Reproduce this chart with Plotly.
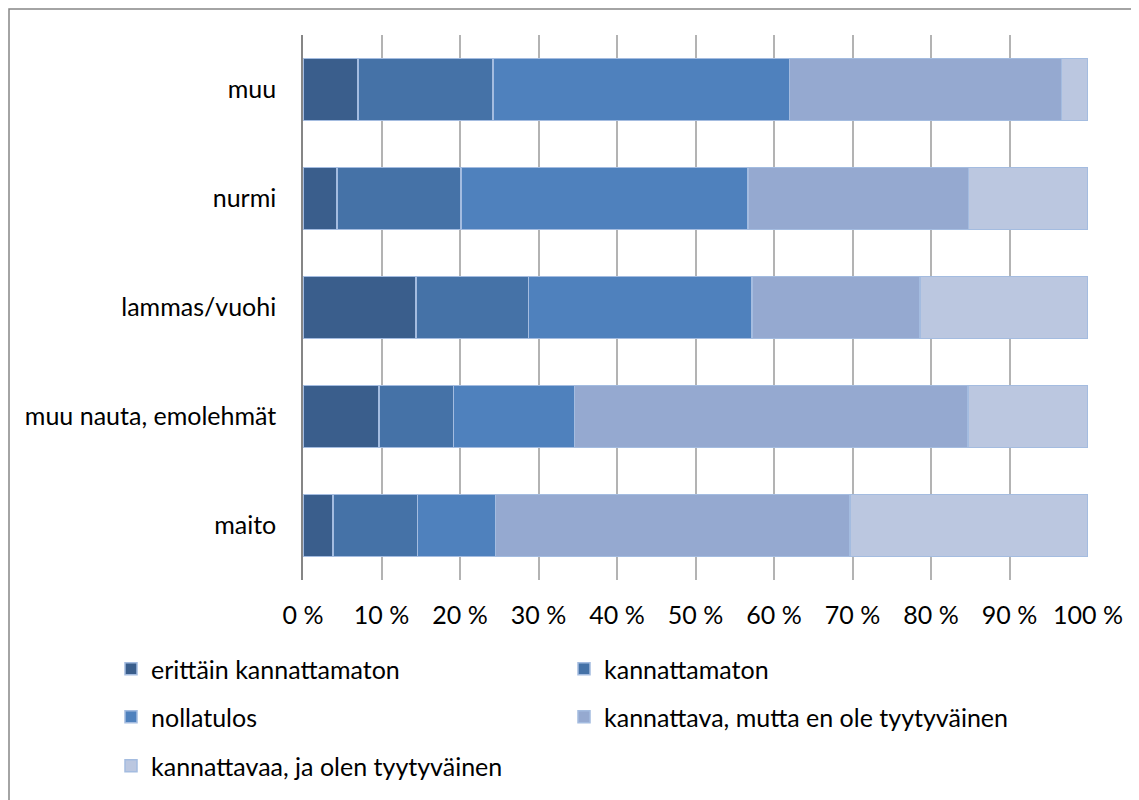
import plotly.graph_objects as go

# Data (percent of respondents)
categories = ['maito', 'muu nauta, emolehmät', 'lammas/vuohi', 'nurmi', 'muu']
series_names = ['erittäin kannattamaton', 'kannattamaton', 'nollatulos',
                'kannattava, mutta en ole tyytyväinen', 'kannattavaa, ja olen tyytyväinen']
erittain_kannattamaton = [3.8, 9.7, 14.4, 4.3, 7.0]
kannattamaton = [10.8, 9.5, 14.3, 15.8, 17.2]
nollatulos = [9.9, 15.4, 28.5, 36.6, 37.8]
kannattava_ei_tyytyvainen = [45.2, 50.1, 21.4, 28.1, 34.6]
kannattavaa_tyytyvainen = [30.3, 15.3, 21.4, 15.2, 3.4]
x_ticks = [0, 10, 20, 30, 40, 50, 60, 70, 80, 90, 100]

values = [erittain_kannattamaton, kannattamaton, nollatulos,
          kannattava_ei_tyytyvainen, kannattavaa_tyytyvainen]
colors = ['#3A5E8C', '#4572A7', '#4F81BD', '#95A9D0', '#BBC7E0']
# which legend row each series goes to
legend_ids = ['legend', 'legend', 'legend2', 'legend2', 'legend3']

FONT = 'Lato'
FS = 25
OFF = 8  # page body margin

fig = go.Figure()
for name, vals, col, lg in zip(series_names, values, colors, legend_ids):
    fig.add_trace(go.Bar(
        y=categories, x=vals, name=name, orientation='h', legend=lg,
        marker=dict(color=col, line=dict(color='#A4BCE0', width=1.5)),
    ))

W, H = 1131, 792
L, T = 303 - OFF, 35 - OFF
pw, ph = 785, 545
R, B = W - L - pw, H - T - ph


def px_x(p):
    return (p - OFF - L) / pw


def px_y(p):
    return (H - B - (p - OFF)) / ph


def legend_row(y_center):
    return dict(
        orientation='h', traceorder='normal',
        x=px_x(103 + OFF), xanchor='left', y=px_y(y_center), yanchor='middle',
        entrywidth=408, entrywidthmode='pixels',
        font=dict(family=FONT, size=FS, color='#000000'),
        itemwidth=30, bgcolor='rgba(0,0,0,0)',
    )


fig.update_layout(
    width=W, height=H,
    barmode='stack', bargap=0.43,
    margin=dict(l=L, r=R, t=T, b=B, autoexpand=False),
    paper_bgcolor='white', plot_bgcolor='white',
    font=dict(family=FONT, size=FS, color='#000000'),
    showlegend=True,
    legend=legend_row(669),
    legend2=legend_row(717),
    legend3=legend_row(766),
    shapes=[dict(type='rect', xref='paper', yref='paper',
                 x0=(1 - L) / pw, x1=(W + 20 - L) / pw,
                 y0=(H - B - (H + 20)) / ph, y1=(H - B - 1) / ph,
                 line=dict(color='#868686', width=1.5), layer='below')],
)

fig.update_xaxes(
    range=[0, 100], tickvals=x_ticks,
    ticktext=[f'{v} %' for v in x_ticks],
    showgrid=True, gridcolor='#B3B3B3', gridwidth=1.5,
    zeroline=False, showline=False, ticks='', ticklabelstandoff=18,
    tickfont=dict(family=FONT, size=FS, color='#000000'),
)
fig.update_yaxes(
    showgrid=False, showline=True, linecolor='#868686', linewidth=1.5,
    ticks='', ticklabelstandoff=20,
    tickfont=dict(family=FONT, size=FS, color='#000000'),
)

fig.write_html('out.html')
